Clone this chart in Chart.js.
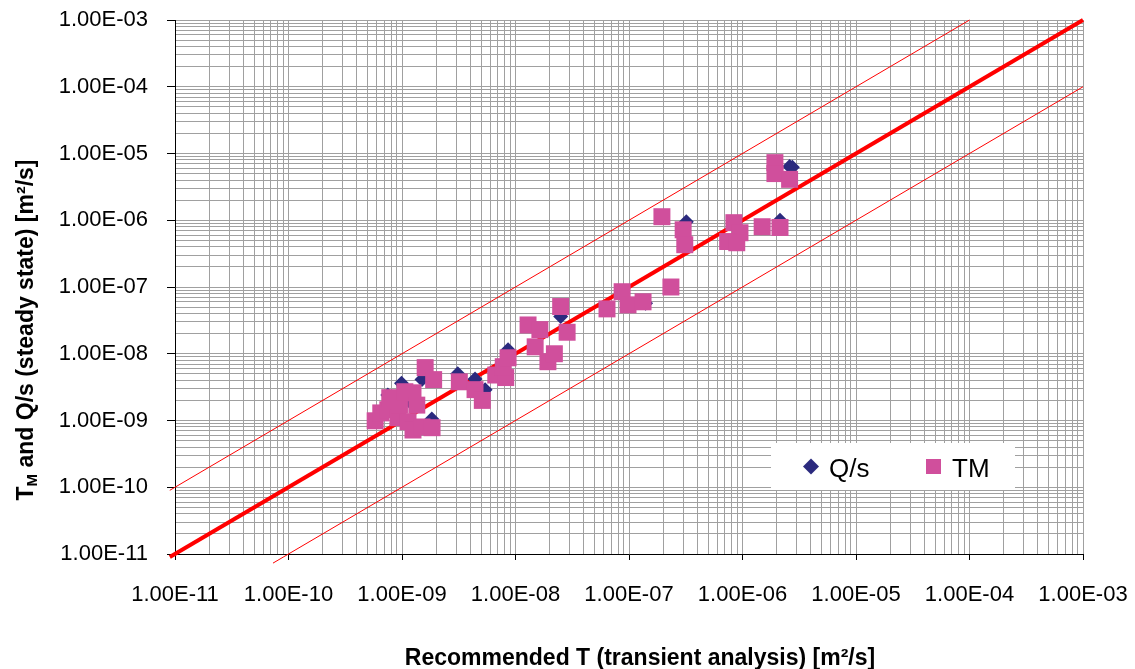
<!DOCTYPE html>
<html><head><meta charset="utf-8">
<script src="https://cdn.jsdelivr.net/npm/chart.js@4.4.1/dist/chart.umd.min.js"></script>
<style>html,body{margin:0;padding:0;background:#fff;overflow:hidden}#wrap{width:1135px;height:669px}</style>
</head><body><div id="wrap"><canvas id="c" width="1135" height="669"></canvas></div>
<script>
// ---- data ----
const tmT = [5.8e-10,6.5e-10,7.5e-10,7.8e-10,9.2e-10,9.5e-10,1.06e-9,1.25e-9,1.35e-9,1.13e-9,1.25e-9,1.5e-9,1.84e-9,1.6e-9,1.9e-9,3.2e-9,4.4e-9,5.1e-9,6.7e-9,8.2e-9,7.8e-9,8.6e-9,1.29e-8,1.64e-8,1.49e-8,1.93e-8,2.2e-8,2.5e-8,2.85e-8,6.4e-8,8.7e-8,9.8e-8,1.33e-7,2.34e-7,1.95e-7,3.0e-7,3.1e-7,8.4e-7,9.5e-7,7.4e-7,8.9e-7,1.49e-6,2.14e-6,1.93e-6,1.93e-6,2.6e-6];
const tmV = [9.9e-10,1.3e-9,1.45e-9,2.2e-9,1.1e-9,1.7e-9,2.7e-9,2.6e-9,1.7e-9,9.6e-10,7.2e-10,8.0e-10,7.8e-10,6.2e-9,4.1e-9,3.8e-9,2.9e-9,2.0e-9,4.8e-9,4.4e-9,6.4e-9,8.7e-9,2.7e-8,2.3e-8,1.27e-8,7.6e-9,1.0e-8,5.1e-8,2.1e-8,4.7e-8,8.5e-8,5.4e-8,6.0e-8,1.0e-7,1.13e-6,7.2e-7,4.3e-7,9.2e-7,6.5e-7,4.8e-7,4.6e-7,8.0e-7,7.8e-7,7.3e-6,5.0e-6,4.1e-6];
const qsT = [5.8e-10,6.5e-10,7.5e-10,7.8e-10,9.2e-10,9.9e-10,1.06e-9,1.25e-9,1.2e-9,1.35e-9,1.13e-9,1.25e-9,1.5e-9,1.83e-9,1.6e-9,1.5e-9,1.9e-9,3.1e-9,4.4e-9,5.4e-9,5.1e-9,6.7e-9,8.2e-9,8.6e-9,1.29e-8,1.64e-8,1.49e-8,1.93e-8,2.2e-8,2.5e-8,2.85e-8,6.4e-8,8.7e-8,9.8e-8,1.4e-7,2.34e-7,1.95e-7,3.2e-7,3.1e-7,8.4e-7,7.4e-7,8.9e-7,1.49e-6,2.14e-6,1.93e-6,2.6e-6,2.75e-6];
const qsV = [1.0e-9,1.3e-9,2.4e-9,2.2e-9,1.1e-9,3.6e-9,2.7e-9,2.6e-9,1.84e-9,1.7e-9,9.6e-10,7.2e-10,8.0e-10,1.05e-9,6.2e-9,4.1e-9,4.1e-9,5.0e-9,4.2e-9,2.9e-9,2.0e-9,4.8e-9,4.4e-9,1.15e-8,2.7e-8,2.3e-8,1.27e-8,7.6e-9,1.0e-8,3.6e-8,2.1e-8,4.7e-8,8.5e-8,5.4e-8,5.7e-8,1.0e-7,1.1e-6,9.5e-7,4.3e-7,9.2e-7,4.8e-7,4.6e-7,8.0e-7,1.0e-6,6.0e-6,6.4e-6,6.2e-6];
const equalX = [9e-12, 1e-3];
const equalY = [9e-12, 1e-3];
const upperX = [9e-12, 1e-4];
const upperY = [9e-11, 1e-3];
const lowerX = [7.3e-11, 1e-3];
const lowerY = [7.3e-12, 1e-4];
const axisMin = 1e-11, axisMax = 1e-3;
const seriesNames = ['Q/s', 'TM'];
const xTitle = 'Recommended T (transient analysis) [m\u00B2/s]';

const FONT = '"Liberation Sans", Arial, sans-serif';
const pts = (xs, ys) => xs.map((x, i) => ({x, y: ys[i]}));

function logTicks(scale) {
  const t = [];
  for (let e = -11; e <= -3; e++) {
    for (let s = 1; s <= 9; s++) {
      const v = s * Math.pow(10, e);
      if (v > axisMax * 1.0001) break;
      t.push({value: v, major: s === 1});
    }
  }
  scale.ticks = t;
}
function fmt(v) {
  const l = Math.log10(v), r = Math.round(l);
  if (Math.abs(l - r) > 1e-6) return '';
  const e = Math.abs(r);
  return '1.00E' + (r < 0 ? '-' : '+') + (e < 10 ? '0' + e : '' + e);
}
function noPad(s) { s.paddingTop = 0; s.paddingBottom = 0; s.paddingLeft = 0; s.paddingRight = 0; }

const overlay = {
  id: 'overlay',
  afterDraw(chart) {
    const ctx = chart.ctx;
    ctx.save();
    // legend box
    ctx.fillStyle = '#fff';
    ctx.fillRect(771, 443, 244, 47);
    ctx.fillStyle = '#2b2a7e';
    ctx.beginPath();
    ctx.moveTo(811, 458.5); ctx.lineTo(819, 466.5); ctx.lineTo(811, 474.5); ctx.lineTo(803, 466.5);
    ctx.closePath(); ctx.fill();
    ctx.fillStyle = '#d04f9c';
    ctx.fillRect(926, 459, 15, 15);
    ctx.fillStyle = '#000';
    ctx.font = '26px ' + FONT;
    ctx.textBaseline = 'alphabetic';
    ctx.textAlign = 'left';
    ctx.fillText(seriesNames[0], 829, 477);
    ctx.fillText(seriesNames[1], 952, 477);

    // x axis title
    ctx.font = 'bold 23px ' + FONT;
    ctx.textAlign = 'center';
    ctx.fillText(xTitle, 640, 665);
    ctx.restore();

    // y axis title with subscript
    ctx.save();
    ctx.translate(33, 330);
    ctx.rotate(-Math.PI / 2);
    const big = 'bold 23px ' + FONT, small = 'bold 15px ' + FONT;
    const rest = ' and Q/s (steady state) [m\u00B2/s]';
    ctx.font = big; const wT = ctx.measureText('T').width; const wR = ctx.measureText(rest).width;
    ctx.font = small; const wM = ctx.measureText('M').width;
    let x0 = -(wT + wM + wR) / 2;
    ctx.fillStyle = '#000';
    ctx.textBaseline = 'alphabetic';
    ctx.textAlign = 'left';
    ctx.font = big; ctx.fillText('T', x0, 0);
    ctx.font = small; ctx.fillText('M', x0 + wT, 4);
    ctx.font = big; ctx.fillText(rest, x0 + wT + wM, 0);
    ctx.restore();
  }
};

const gridCommon = {
  color: '#a0a0a0',
  lineWidth: 1,
  tickColor: (c) => (c.tick && c.tick.major) ? '#000' : 'rgba(0,0,0,0)',
};

new Chart(document.getElementById('c'), {
  type: 'scatter',
  data: {
    datasets: [
      {label: seriesNames[0], data: pts(qsT, qsV), pointStyle: 'rectRot', pointRadius: 7.5,
       backgroundColor: '#2b2a7e', borderWidth: 0, order: 2},
      {label: seriesNames[1], data: pts(tmT, tmV), pointStyle: 'rect', pointRadius: 12,
       backgroundColor: '#d04f9c', borderWidth: 0, order: 1},
      {label: 'eq', type: 'line', data: pts(equalX, equalY), showLine: true, borderColor: '#ff0000',
       borderWidth: 4, pointRadius: 0, clip: false, order: 3},
      {label: 'up', type: 'line', data: pts(upperX, upperY), showLine: true, borderColor: '#ff0000',
       borderWidth: 1, pointRadius: 0, clip: false, order: 3},
      {label: 'lo', type: 'line', data: pts(lowerX, lowerY), showLine: true, borderColor: '#ff0000',
       borderWidth: 1, pointRadius: 0, clip: false, order: 3}
    ]
  },
  options: {
    responsive: false,
    animation: false,
    devicePixelRatio: 1,
    events: [],
    layout: {padding: {left: 0, right: 52, top: 20, bottom: 0}},
    plugins: {legend: {display: false}, tooltip: {enabled: false}},
    scales: {
      x: {
        type: 'logarithmic', min: axisMin, max: axisMax,
        afterBuildTicks: logTicks,
        afterFit: (s) => { s.height = 115; noPad(s); },
        grid: Object.assign({tickLength: 6}, gridCommon),
        border: {color: '#000', width: 1},
        ticks: {callback: fmt, autoSkip: false, maxRotation: 0, minRotation: 0, padding: 22,
                color: '#000', font: {family: FONT, size: 22}},
        title: {display: false}
      },
      y: {
        type: 'logarithmic', min: axisMin, max: axisMax,
        afterBuildTicks: logTicks,
        afterFit: (s) => { s.width = 175; noPad(s); },
        grid: Object.assign({tickLength: 8}, gridCommon),
        border: {color: '#000', width: 1},
        ticks: {callback: fmt, autoSkip: false, padding: 19, color: '#000',
                font: {family: FONT, size: 22}}
      }
    }
  },
  plugins: [overlay]
});
</script>
</body></html>
